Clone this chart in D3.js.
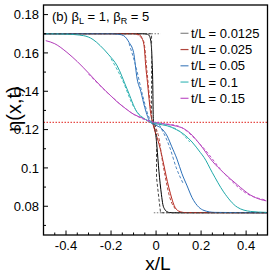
<!DOCTYPE html>
<html><head><meta charset="utf-8">
<script src="https://cdn.jsdelivr.net/npm/d3@7"></script>
<style>
html,body{margin:0;padding:0;background:#fff;}
svg{display:block;font-family:"Liberation Sans",Arial,sans-serif;}
</style></head>
<body><svg id="c" width="274" height="274"></svg>
<script>
// ---- data ----
const seriesLabels = ["t/L = 0.0125","t/L = 0.025","t/L = 0.05","t/L = 0.1","t/L = 0.15"];
const seriesColors = ["#000000","#b8281e","#2a6fb8","#1fa8a8","#b03ab8"];
const legendColors = ["#888888","#b0453c","#4f86c0","#45bcbc","#c055c8"];

const x0125 = [-0.5,-0.06,-0.04,-0.03,-0.022,-0.018,-0.015,-0.012,-0.008,-0.004,0.0,0.004,0.008,0.013,0.018,0.024,0.03,0.038,0.048,0.06,0.08,0.5];
const y0125 = [0.17,0.17,0.1698,0.169,0.165,0.157,0.146,0.1245,0.121,0.119,0.116,0.111,0.105,0.098,0.092,0.086,0.081,0.0785,0.0772,0.0767,0.0766,0.0766];

const x025 = [-0.5,-0.1,-0.075,-0.061,-0.052,-0.046,-0.038,-0.031,-0.024,-0.016,-0.008,0.0,0.008,0.019,0.03,0.04,0.05,0.064,0.08,0.1,0.13,0.5];
const y025 = [0.17,0.17,0.1695,0.1673,0.1625,0.1533,0.1445,0.1359,0.1285,0.1238,0.1205,0.1175,0.1145,0.1098,0.104,0.0985,0.093,0.0865,0.0805,0.0775,0.0767,0.0766];

const x05 = [-0.5,-0.2,-0.165,-0.144,-0.12,-0.1,-0.084,-0.068,-0.05,-0.025,0.004,0.025,0.049,0.07,0.093,0.115,0.138,0.16,0.19,0.213,0.26,0.5];
const y05 = [0.17,0.17,0.1697,0.169,0.1655,0.1603,0.1464,0.14,0.1315,0.1238,0.122,0.1205,0.1167,0.111,0.1046,0.097,0.0906,0.0845,0.0795,0.0778,0.0768,0.0766];

const x1 = [-0.5,-0.4,-0.322,-0.28,-0.248,-0.21,-0.173,-0.129,-0.084,-0.05,-0.025,0.01,0.049,0.09,0.123,0.16,0.197,0.213,0.25,0.3,0.361,0.42,0.49];
const y1 = [0.17,0.1698,0.169,0.167,0.1638,0.159,0.1533,0.1412,0.129,0.1255,0.1238,0.1228,0.122,0.12,0.1176,0.1135,0.108,0.1055,0.0975,0.0875,0.0795,0.0773,0.0768];

const x15 = [-0.49,-0.45,-0.396,-0.35,-0.3,-0.248,-0.2,-0.173,-0.13,-0.1,-0.06,-0.025,0.02,0.049,0.09,0.123,0.152,0.197,0.25,0.3,0.361,0.42,0.465,0.49];
const y15 = [0.1664,0.1648,0.1603,0.1555,0.1495,0.143,0.1375,0.1345,0.1305,0.128,0.126,0.1242,0.1232,0.1227,0.1218,0.1205,0.118,0.112,0.1035,0.0975,0.0912,0.0858,0.0835,0.0828];

// theory (dashed) overlays near the centre
const xd0125 = [-0.5,-0.02,-0.02,-0.004,0.002,0.002,0.01,0.02,0.5];
const yd0125 = [0.17,0.17,0.124,0.1225,0.118,0.095,0.0867,0.0766,0.0766];
const xd025 = [-0.09,-0.055,-0.04,-0.025,-0.012,0.0,0.012,0.025,0.04,0.06,0.09];
const yd025 = [0.17,0.166,0.15,0.132,0.1225,0.1205,0.116,0.106,0.096,0.085,0.078];
const xd05 = [-0.12,-0.09,-0.06,-0.03,-0.01,0.01,0.03,0.06,0.09,0.12];
const yd05 = [0.165,0.153,0.138,0.126,0.1232,0.1228,0.119,0.111,0.1,0.092];
const xd1 = [-0.2,-0.15,-0.1,-0.05,-0.02,0.02,0.06,0.1,0.15];
const yd1 = [0.157,0.146,0.132,0.1255,0.1238,0.1232,0.1218,0.1195,0.1135];
const xd15 = [-0.3,-0.2,-0.1,-0.03,0.03,0.1,0.2,0.3,0.4,0.49];
const yd15 = [0.149,0.1375,0.128,0.1244,0.1232,0.1218,0.1118,0.0975,0.0868,0.0832];

const leftState = 0.17, rightState = 0.0766, midState = 0.1238;

const xTicks = [-0.4,-0.2,0,0.2,0.4];
const xTickLabels = ["-0.4","-0.2","0","0.2","0.4"];
const yTicks = [0.08,0.1,0.12,0.14,0.16,0.18];
const yTickLabels = ["0.08","0.1","0.12","0.14","0.16","0.18"];

// ---- drawing ----
const svg = d3.select("#c");
const L = 43.5, R = 267.5, T = 5, B = 235;
const x = d3.scaleLinear().domain([-0.5,0.495]).range([L,R]);
const y = d3.scaleLinear().domain([0.065,0.185]).range([B,T]);

svg.append("clipPath").attr("id","pc").append("rect")
  .attr("x",L).attr("y",T).attr("width",R-L).attr("height",B-T);
const g = svg.append("g").attr("clip-path","url(#pc)");
const line = d3.line().x(d=>x(d[0])).y(d=>y(d[1])).curve(d3.curveMonotoneX);
const lineLin = d3.line().x(d=>x(d[0])).y(d=>y(d[1]));

// reference dotted lines
g.append("path").attr("d",lineLin([[-0.5,midState],[0.5,midState]]))
  .attr("fill","none").attr("stroke","#e0201a").attr("stroke-width",1).attr("stroke-dasharray","1.5,1.5");
g.append("path").attr("d",lineLin([[-0.5,leftState],[0.02,leftState]]))
  .attr("fill","none").attr("stroke","#777").attr("stroke-width",1).attr("stroke-dasharray","1.5,1.5");
g.append("path").attr("d",lineLin([[-0.01,rightState],[0.5,rightState]]))
  .attr("fill","none").attr("stroke","#777").attr("stroke-width",1).attr("stroke-dasharray","1.5,1.5");

const solids = [[x0125,y0125],[x025,y025],[x05,y05],[x1,y1],[x15,y15]];
const dashes = [[xd0125,yd0125],[xd025,yd025],[xd05,yd05],[xd1,yd1],[xd15,yd15]];
const zip = (a,b)=>a.map((v,i)=>[v,b[i]]);

solids.forEach((s,i)=>{
  g.append("path").attr("d",line(zip(s[0],s[1])))
   .attr("fill","none").attr("stroke",seriesColors[i]).attr("stroke-width",1);
});
dashes.forEach((s,i)=>{
  g.append("path").attr("d",(i===0?lineLin:line)(zip(s[0],s[1])))
   .attr("fill","none").attr("stroke",i===0?"#444":legendColors[i]).attr("stroke-width",1)
   .attr("stroke-dasharray","3,2");
});

// frame
svg.append("rect").attr("x",L).attr("y",T).attr("width",R-L).attr("height",B-T)
  .attr("fill","none").attr("stroke","#000").attr("stroke-width",1.3);

// ticks (inward)
const xMinor = d3.range(-0.45,0.5,0.05).filter(v=>Math.abs(v*5-Math.round(v*5))>1e-6);
const yMinor = d3.range(0.07,0.185,0.01).filter(v=>Math.abs(v*50-Math.round(v*50))>1e-6);
const tg = svg.append("g").attr("stroke","#000").attr("stroke-width",1);
xTicks.forEach(v=>tg.append("line").attr("x1",x(v)).attr("x2",x(v)).attr("y1",B).attr("y2",B-4.5));
xMinor.forEach(v=>tg.append("line").attr("x1",x(v)).attr("x2",x(v)).attr("y1",B).attr("y2",B-2.5));
yTicks.forEach(v=>tg.append("line").attr("x1",L).attr("x2",L+4.5).attr("y1",y(v)).attr("y2",y(v)));
yMinor.forEach(v=>tg.append("line").attr("x1",L).attr("x2",L+2.5).attr("y1",y(v)).attr("y2",y(v)));

const fs = 13;
xTicks.forEach((v,i)=>svg.append("text").attr("x",x(v)).attr("y",B+14.5)
  .attr("text-anchor","middle").attr("font-size",fs).text(xTickLabels[i]));
yTicks.forEach((v,i)=>svg.append("text").attr("x",L-4.5).attr("y",y(v)+4.6)
  .attr("text-anchor","end").attr("font-size",fs).text(yTickLabels[i]));

// axis titles
svg.append("text").attr("x",158).attr("y",269.8).attr("text-anchor","middle")
  .attr("font-size",19).text("x/L");
svg.append("text").attr("transform","translate(21,109) rotate(-90)").attr("text-anchor","middle")
  .attr("font-size",20).text("η(x,t)");

// panel title
const tt = svg.append("text").attr("x",52).attr("y",21).attr("font-size",13);
tt.append("tspan").text("(b) β");
tt.append("tspan").attr("font-size",9).attr("dy",3).text("L");
tt.append("tspan").attr("dy",-3).text(" = 1, β");
tt.append("tspan").attr("font-size",9).attr("dy",3).text("R");
tt.append("tspan").attr("dy",-3).text(" = 5");

// legend
seriesLabels.forEach((lab,i)=>{
  const cy = 33.3 + i*16.25;
  svg.append("line").attr("x1",180.5).attr("x2",188.5).attr("y1",cy).attr("y2",cy)
    .attr("stroke",legendColors[i]).attr("stroke-width",1.2);
  svg.append("text").attr("x",191).attr("y",cy+4.6).attr("font-size",13).text(lab);
});
</script></body></html>
